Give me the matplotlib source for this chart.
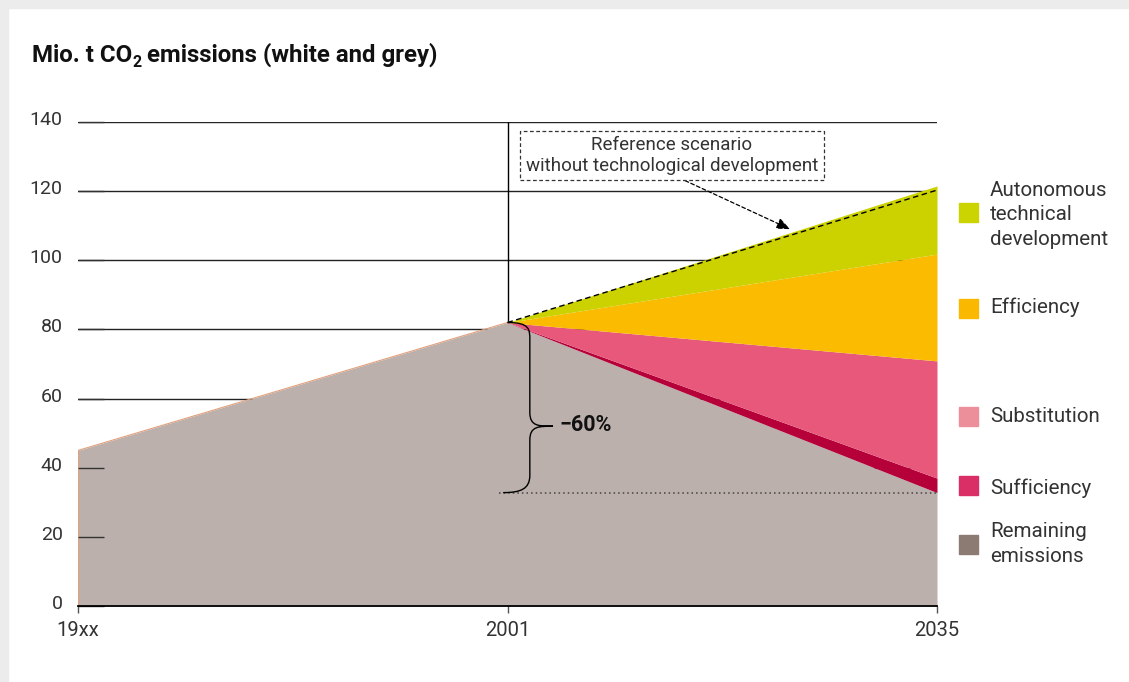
import numpy as np
import matplotlib
matplotlib.use('Agg')
import matplotlib.pyplot as plt
import matplotlib.transforms as mtransforms
from matplotlib.patches import Rectangle, PathPatch
from matplotlib.path import Path

plt.rcParams['font.family'] = ['Roboto', 'DejaVu Sans']

# ---- data (Mio. t CO2) ----
years = ['19xx', '2001', '2035']
remaining = [45, 82, 32.8]
sufficiency = [0, 0, 4.2]
substitution = [0, 0, 33.9]
efficiency = [0, 0, 30.9]
autonomous = [0, 0, 19.7]
reference = [82, 120.3]          # 2001 -> 2035, without technological development
yticks = [0, 20, 40, 60, 80, 100, 120, 140]

labels = ['Autonomous\ntechnical\ndevelopment', 'Efficiency', 'Substitution',
          'Sufficiency', 'Remaining\nemissions']
legend_colors = ['#cbd300', '#fab900', '#ed8f9b', '#da2f66', '#8c7b73']

W, H = 1129, 682
fig = plt.figure(figsize=(W / 100, H / 100), dpi=100)
fig.patch.set_facecolor('white')
# light grey frame strips (top / left)
fig.patches.append(Rectangle((0, 1 - 8 / H), 1, 8 / H, transform=fig.transFigure,
                             color='#ebeceb', zorder=0))
fig.patches.append(Rectangle((0, 0), 8 / W, 1, transform=fig.transFigure,
                             color='#ebeceb', zorder=0))

ax = fig.add_axes([78 / W, (H - 606) / H, 859 / W, 484 / H])
x = np.arange(len(years))

# stacked areas
layers = [remaining, sufficiency, substitution, efficiency, autonomous]
cols = ['#bbb0ab', '#b5003a', '#e8587a', '#fabb00', '#cbd200']
base = np.zeros(len(x))
for vals, c in zip(layers, cols):
    top = base + np.array(vals)
    ax.fill_between(x, base, top, color=c, lw=0, zorder=1)
    base = top
ax.plot(x[:2], remaining[:2], color='#e2a07c', lw=0.8, zorder=1.5)
ax.plot([0, 0], [0, remaining[0]], color='#e2a07c', lw=0.8, zorder=1.5)

# gridlines behind the areas
for yv in yticks[1:]:
    ax.axhline(yv, color='#222222', lw=1, zorder=0)
ax.plot([1, 1], [0, 140], color='black', lw=1, zorder=0)

# reference scenario dashed line
ax.plot(x[1:], reference, color='black', lw=1, ls=(0, (4, 2.5)), zorder=3)

# dotted -60% level
ax.plot([0.98, 2], [remaining[2], remaining[2]], color='#444444', lw=1.1,
        ls=(0, (1, 2)), zorder=3)

# brace from 2001 level down to 2035 remaining
top_y, bot_y = remaining[1], remaining[2]
mid_y = 52
xb, xt = 1.052, 1.106
verts = [(1.0, top_y),
         (xb, top_y), (xb, top_y - 2), (xb, top_y - 5),
         (xb, mid_y + 4),
         (xb, mid_y), (xb + 0.02, mid_y), (xt, mid_y),
         (xb + 0.02, mid_y), (xb, mid_y), (xb, mid_y - 4),
         (xb, bot_y + 5),
         (xb, bot_y + 1), (1.03, bot_y), (0.99, bot_y)]
codes = [Path.MOVETO, Path.CURVE4, Path.CURVE4, Path.CURVE4, Path.LINETO,
         Path.CURVE4, Path.CURVE4, Path.CURVE4,
         Path.CURVE4, Path.CURVE4, Path.CURVE4, Path.LINETO,
         Path.CURVE4, Path.CURVE4, Path.CURVE4]
ax.add_patch(PathPatch(Path(verts, codes), fc='none', ec='black', lw=1, zorder=4))
ax.text(1.12, mid_y + 0.4, '\u221260%', fontsize=15.5, fontweight='bold', ha='left',
        va='center', color='#111111', zorder=5)

# reference scenario box + arrow
ax.annotate('Reference scenario\nwithout technological development',
            xy=(1.658, 109), xytext=(1.383, 130.3), ha='center', va='center',
            fontsize=13.5, color='#333333', linespacing=1.15,
            bbox=dict(boxstyle='square,pad=0.3', fc='white', ec='#333333',
                      ls=(0, (3, 2)), lw=0.9),
            arrowprops=dict(arrowstyle='-|>,head_length=0.6,head_width=0.25',
                            color='black', lw=0.9, ls=(0, (3, 2)),
                            relpos=(0.5, 0), shrinkA=0, shrinkB=0),
            zorder=5)

# axes styling
ax.set_xlim(0, 2)
ax.set_ylim(0, 140)
for s in ['top', 'right', 'left']:
    ax.spines[s].set_visible(False)
ax.spines['bottom'].set_color('black')
ax.spines['bottom'].set_linewidth(1.3)
ax.spines['bottom'].set_zorder(4)
ax.set_xticks(x)
ax.set_xticklabels(years)
ax.set_yticks(yticks)
ax.set_yticklabels([str(v) for v in yticks])
ax.tick_params(axis='x', direction='out', length=5, width=1, color='#555555',
               pad=6, labelsize=14.5, labelcolor='#333333')
ax.tick_params(axis='y', direction='in', length=18.5, width=1, color='#333333',
               pad=11, labelsize=14, labelcolor='#333333')
up = mtransforms.ScaledTranslation(0, 4 / 100, fig.dpi_scale_trans)
for lab in ax.get_yticklabels():
    lab.set_transform(lab.get_transform() + up)
ax.set_zorder(2)
ax.patch.set_alpha(0)

# title, with the subscript 2 set as a separate smaller text
renderer = fig.canvas.get_renderer()
tx, ty = 32 / W, 1 - 62 / H
t1 = fig.text(tx, ty, 'Mio. t CO', fontsize=17.3, fontweight='bold',
              va='baseline', ha='left', color='#111111')
bb = t1.get_window_extent(renderer)
t2 = fig.text(bb.x1 / W, ty - 5 / H, '2', fontsize=11.5, fontweight='bold',
              va='baseline', ha='left', color='#111111')
bb2 = t2.get_window_extent(renderer)
fig.text(bb2.x1 / W, ty, ' emissions (white and grey)', fontsize=17.3,
         fontweight='bold', va='baseline', ha='left', color='#111111')

# manual legend
sq_y = [212.5, 308.5, 416.5, 485.5, 544.5]
txt_y = [215, 307, 416, 488, 544]
for lab, c, sy, ty in zip(labels, legend_colors, sq_y, txt_y):
    fig.patches.append(Rectangle((959 / W, 1 - (sy + 9.5) / H), 19 / W, 19 / H,
                                 transform=fig.transFigure, color=c))
    fig.text(990 / W, 1 - ty / H, lab, fontsize=14.8,
             color='#333333', va='center', ha='left', linespacing=1.36)

fig.savefig('out.png', dpi=100)
